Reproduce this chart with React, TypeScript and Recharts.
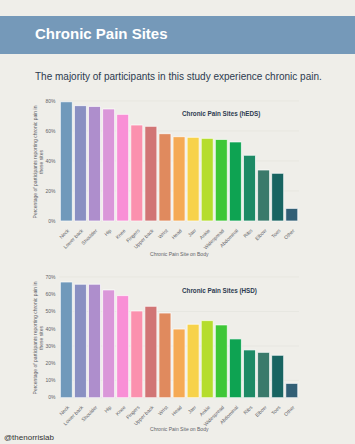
import { BarChart, Bar, XAxis, YAxis, CartesianGrid, Cell } from 'recharts'

const SITES = [
  'Neck', 'Lower back', 'Shoulder', 'Hip', 'Knee', 'Fingers', 'Upper back', 'Wrist', 'Head',
  'Jaw', 'Ankle', 'Widespread', 'Abdominal', 'Ribs', 'Elbow', 'Toes', 'Other',
]
// percent of participants
const HEDS = [79.5, 76.9, 76.4, 74.7, 71.1, 64, 63.1, 58.2, 56.2, 55.8, 55.1, 54.4, 52.7, 43.8, 34, 31.8, 8.4]
const HSD = [67.1, 65.8, 65.8, 62.5, 59.2, 50.3, 53, 49.1, 39.8, 42.6, 44.7, 42.2, 34.1, 27.7, 26.3, 24.6, 8.3]
const COLORS = [
  '#7099bb', '#8a90c2', '#ae8ecc', '#da97d9', '#f98fd6', '#fb91ae', '#d17575', '#e08a5e', '#f5aa55',
  '#f7d24a', '#b5dd2d', '#3ec737', '#0ea352', '#1d8a65', '#3a7a6b', '#186461', '#325f75',
]
const HEDS_TICKS = [0, 20, 40, 60, 80]
const HSD_TICKS = [0, 10, 20, 30, 40, 50, 60, 70]

const FONT = '"Liberation Sans", Arial, sans-serif'
const INK = '#2c3a4f'
const AXIS_TEXT = '#5f6368'

const SiteTick = ({ x, y, payload }: any) => (
  <g transform={`translate(${x + 3},${y + 2})`}>
    <text x={0} y={0} textAnchor="end" transform="rotate(-45)" fontSize={5} fill={AXIS_TEXT} fontFamily={FONT}>
      {payload.value}
    </text>
  </g>
)

function SitesChart({ title, values, ticks, top, marginTop, axisHeight, titleTop, labelCenter }: {
  title: string
  values: number[]
  ticks: number[]
  top: number
  marginTop: number
  axisHeight: number
  titleTop: number
  labelCenter: number
}) {
  const data = SITES.map((site, i) => ({ site, value: values[i] }))
  return (
    <>
      <div style={{ position: 'absolute', left: 0, top }}>
        <BarChart
          width={355}
          height={170}
          data={data}
          margin={{ top: marginTop, right: 56, left: 0, bottom: 0 }}
          barCategoryGap="6%"
        >
          <CartesianGrid vertical={false} stroke="#e3e2dc" strokeWidth={0.6} />
          <XAxis
            dataKey="site"
            interval={0}
            height={axisHeight}
            axisLine={false}
            tickLine={false}
            tick={<SiteTick />}
            label={{ value: 'Chronic Pain Site on Body', position: 'insideBottom', offset: 4, fontSize: 5, fill: AXIS_TEXT, fontFamily: FONT }}
          />
          <YAxis
            width={59.5}
            domain={[0, ticks[ticks.length - 1]]}
            ticks={ticks}
            axisLine={false}
            tickLine={false}
            tickSize={0}
            tickMargin={4}
            tickFormatter={v => `${v}%`}
            tick={{ fontSize: 5, fill: AXIS_TEXT, fontFamily: FONT }}
          />
          <Bar dataKey="value" stroke="#ffffff" strokeWidth={0.7} isAnimationActive={false}>
            {data.map((d, i) => (
              <Cell key={d.site} fill={COLORS[i]} />
            ))}
          </Bar>
        </BarChart>
      </div>
      <div
        style={{
          position: 'absolute', left: 182, top: titleTop,
          fontSize: 6.3, fontWeight: 700, color: INK, fontFamily: FONT, whiteSpace: 'nowrap',
        }}
      >
        {title}
      </div>
      <div
        style={{
          position: 'absolute', left: 38.5, top: labelCenter, width: 160, transform: 'translate(-50%, -50%) rotate(-90deg)',
          fontSize: 5, lineHeight: '5.6px', color: AXIS_TEXT, fontFamily: FONT, textAlign: 'center', whiteSpace: 'nowrap',
        }}
      >
        Percentage of participants reporting chronic pain in
        <br />
        these sites
      </div>
    </>
  )
}

export default function App() {
  return (
    <div style={{ position: 'absolute', left: 0, top: 0, width: 355, height: 444, background: '#efeee9', overflow: 'hidden', fontFamily: FONT }}>
      <div style={{ position: 'absolute', left: 0, top: 16, width: 355, height: 38, background: '#7599b9' }} />
      <div style={{ position: 'absolute', left: 35, top: 25, fontSize: 15, fontWeight: 700, color: '#ffffff', whiteSpace: 'nowrap' }}>
        Chronic Pain Sites
      </div>
      <div style={{ position: 'absolute', left: 35, top: 71, fontSize: 10, color: INK, whiteSpace: 'nowrap' }}>
        The majority of participants in this study experience chronic pain.
      </div>
      <SitesChart title="Chronic Pain Sites (hEDS)" values={HEDS} ticks={HEDS_TICKS} top={90} marginTop={11} axisHeight={39} titleTop={110} labelCenter={162} />
      <SitesChart title="Chronic Pain Sites (HSD)" values={HSD} ticks={HSD_TICKS} top={265} marginTop={12} axisHeight={37.3} titleTop={287} labelCenter={338} />
      <div style={{ position: 'absolute', left: 4, top: 433, fontSize: 8, color: '#333333', whiteSpace: 'nowrap' }}>
        @thenorrislab
      </div>
    </div>
  )
}
